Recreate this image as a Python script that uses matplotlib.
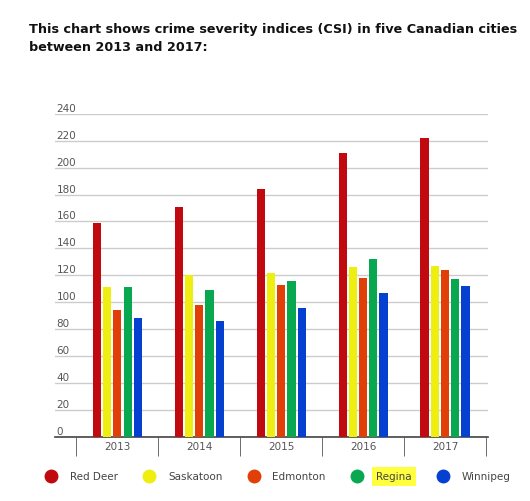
import matplotlib
matplotlib.use("Agg")
import matplotlib.pyplot as plt
import numpy as np

years = ["2013", "2014", "2015", "2016", "2017"]
cities = ["Red Deer", "Saskatoon", "Edmonton", "Regina", "Winnipeg"]
red_deer = [159, 171, 184, 211, 222]
saskatoon = [111, 120, 122, 126, 127]
edmonton = [94, 98, 113, 118, 124]
regina = [111, 109, 116, 132, 117]
winnipeg = [88, 86, 96, 107, 112]
series = [red_deer, saskatoon, edmonton, regina, winnipeg]
colors = ["#c00a10", "#eeee10", "#e04008", "#08a850", "#0540d0"]

fig = plt.figure(figsize=(5.30, 5.01), dpi=100)
fig.text(0.055, 0.955, "This chart shows crime severity indices (CSI) in five Canadian cities\nbetween 2013 and 2017:",
         fontsize=9.2, fontweight="bold", va="top", ha="left", color="#111111", linespacing=1.5)
ax = fig.add_axes([0.104, 0.128, 0.816, 0.645])
x = np.arange(len(years))
w = 0.125
for i, (s, c) in enumerate(zip(series, colors)):
    ax.bar(x + (i - 2) * w, s, width=w * 0.8, color=c, label=cities[i], zorder=3)
ax.set_ylim(0, 240)
ax.set_xlim(-0.76, 4.52)
ax.set_yticks(range(0, 241, 20))
ax.yaxis.grid(True, color="#cccccc", linewidth=1, zorder=0)
ax.tick_params(axis="y", length=0, labelsize=7.5, labelcolor="#555555", pad=0)
ax.set_yticklabels([str(v) for v in range(0, 241, 20)])
for lab in ax.get_yticklabels():
    lab.set_verticalalignment("bottom")
    lab.set_horizontalalignment("left")
ax.tick_params(axis="y", pad=-1)
ax.set_xticks(x)
ax.set_xticklabels(years, fontsize=7.5, color="#555555")
ax.set_xticks(np.arange(-0.5, 5, 1), minor=True)
ax.tick_params(axis="x", which="major", length=0, pad=4)
ax.tick_params(axis="x", which="minor", length=14, color="#555555")
for sp in ["top", "right", "left"]:
    ax.spines[sp].set_visible(False)
ax.spines["bottom"].set_color("#444444")
ax.spines["bottom"].set_linewidth(1.2)
leg = fig.legend(handles=[plt.Line2D([], [], marker="o", ls="", markersize=9, color=c) for c in colors],
                 labels=cities, loc="lower center", bbox_to_anchor=(0.52, 0.02), ncol=5, frameon=False,
                 fontsize=7.5, handletextpad=0.8, columnspacing=2.0)
for t in leg.get_texts():
    t.set_color("#444444")
leg.get_texts()[3].set_bbox(dict(facecolor="#ffff40", edgecolor="none", pad=3))
fig.savefig("out.png", dpi=100)
